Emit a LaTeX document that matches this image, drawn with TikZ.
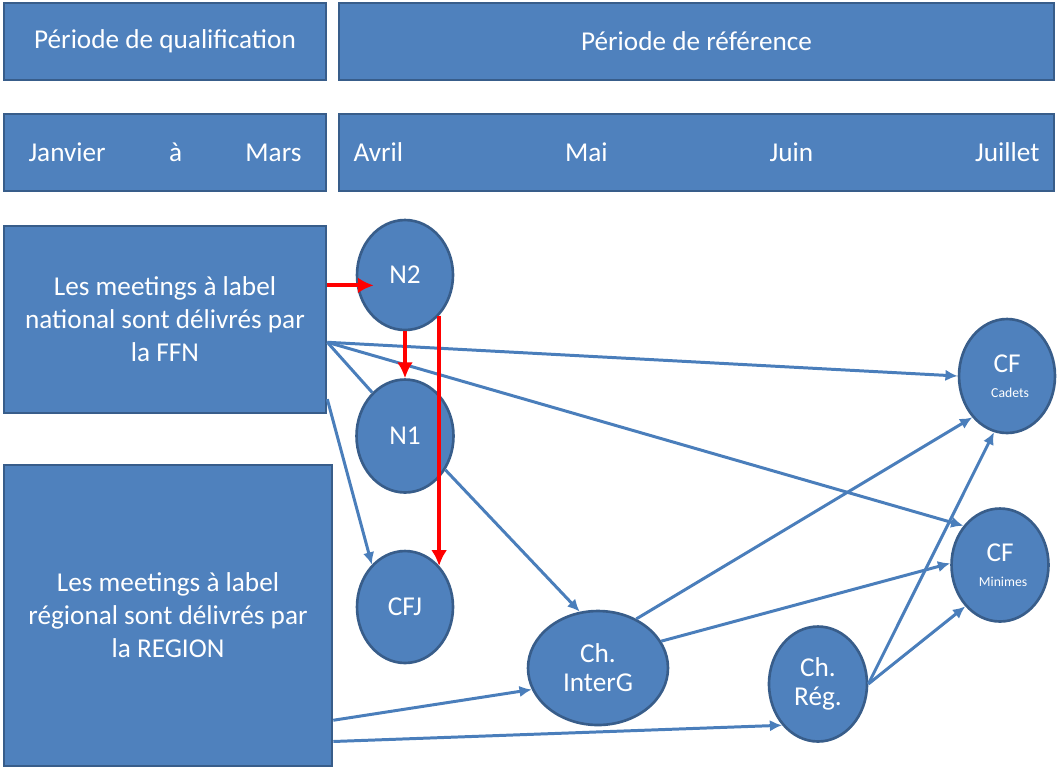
\documentclass[tikz,border=0pt]{standalone}
\usepackage{fontspec}
\setmainfont{Carlito}
\usepackage{tikz}
\usetikzlibrary{shapes.geometric, calc, arrows.meta}
\definecolor{box_blue}			{RGB}{79,129,189}
\definecolor{edge_blue}			{RGB}{56,93,138}
\definecolor{arrow_blue}		{RGB}{74,126,187}
\definecolor{pure_red}			{RGB}{255,0,0}
\newcommand{\subfont}	{ \fontsize{7.8}{9}\selectfont }

\begin{document}
\begin{tikzpicture}[auto,
		x               = 0.02cm,
		y               = -0.02cm,
		blockB/.style   = {draw = edge_blue,
			rectangle,
			align          = center,
			fill           = box_blue,
			font = \fontsize{15.5}{18.8}\selectfont \color{white},
			line width         = 1.5pt,
			inner sep      = 0pt,
			minimum width  = 6.44cm,
			minimum height = 1.54cm},
		compB/.style    = {draw = edge_blue,
			ellipse,
			align          = center,
			fill           = box_blue,
			font = \fontsize{15.5}{16.5}\selectfont \color{white},
			line width         = 1.5pt,
			inner sep      = 0pt},
		linkB/.style    = {-{Latex[length=7pt, width=6.5pt]},
			draw = arrow_blue,
			line width         = 1.7pt},
		lineB/.style    = {draw = arrow_blue,
			line width         = 1.7pt},
		linkR/.style    = {-{Latex[length=9pt, width=9pt]},
			draw = pure_red,
			line width         = 2.2pt}]
		
		\useasboundingbox (0,0) rectangle (1057,769);
		
		\node[blockB] (Qual) at (165,41.5) {Période de qualification};
		\node[blockB, minimum width = 14.3cm] (Ref) at (696.5,41.5) {Période de référence};
		
		\node[blockB, text width = 5.46cm] (QualM) at (165,152.5)
		{Janvier\hfill à\hfill Mars};
		\node[blockB, minimum width = 14.3cm, text width = 13.72cm] (RefM) at (696.5,152.5)
		{Avril\hfill Mai\hfill Juin\hfill Juillet};
		
		\node[blockB, minimum height = 3.74cm] (FFN) at (165,319.5)
		{Les meetings à label \\
			national sont délivrés par \\
			la FFN};
		
		\node[blockB, minimum width = 6.56cm, minimum height = 6.02cm] (Region) at (168,615.5)
		{Les meetings à label \\
			régional sont délivrés par \\
			la REGION};
		
		\node[compB, minimum width = 1.92cm, minimum height = 2.2cm]  (N2)  at (405,275) {N2};
		\node[compB, minimum width = 1.94cm, minimum height = 2.26cm] (N1)  at (405,436) {N1};
		\node[compB, minimum width = 1.92cm, minimum height = 2.24cm] (CFJ) at (405,607) {CFJ};
		\node[compB, minimum width = 2.8cm,  minimum height = 2.28cm] (IG)  at (598,668) {Ch. \\ InterG};
		\node[compB, minimum width = 1.96cm, minimum height = 2.3cm]  (CR)  at (818,684) {Ch. \\ Rég.};
		
		\node[compB, minimum width = 1.92cm, minimum height = 2.28cm] (CFcad) at (1007,376)
		{CF \\[-2.5pt] {\subfont Cadets}};
		\node[compB, minimum width = 1.94cm, minimum height = 2.26cm] (CFmin) at (1000,565)
		{CF \\[-2.5pt] {\subfont Minimes}};
		
		\path (FFN.east)    -- (FFN.north east)    coordinate[pos=0.36]  (f1);
		\path (FFN.east)    -- (FFN.north east)    coordinate[pos=-0.24] (f2);
		\path (FFN.east)    -- (FFN.north east)    coordinate[pos=-0.84] (f3);
		\path (Region.east) -- (Region.north east) coordinate[pos=-0.69] (r1);
		\path (Region.east) -- (Region.north east) coordinate[pos=-0.83] (r2);
		
		% national meetings
		\draw[linkB] (f2) -- (CFcad.west);
		\draw[linkB] (f2) -- (CFmin.133);
		\draw[lineB] (f2) -- (N1.127);
		\draw[linkB] (f3) -- (CFJ.128);
		\draw[linkB] (N1.-40) -- (IG.108);
		
		% regional meetings
		\draw[linkB] (r1) -- (IG.-162);
		\draw[linkB] (r2) -- (CR.-131);
		\draw[linkB] (IG.52) -- (CFcad.-130);
		\draw[linkB] (IG.23) -- (CFmin.178);
		\draw[linkB] (CR.east) -- (CFcad.-103);
		\draw[linkB] (CR.east) -- (CFmin.-130);
		
		\draw[linkR] (f1) -- ($(N2.west |- f1)+(18,0)$);
		\draw[linkR] (N2.south) -- (N1.north);
		\draw[linkR] (N2.-50) -- (N2.-50 |- CFJ.50);
		
	\end{tikzpicture}
\end{document}
